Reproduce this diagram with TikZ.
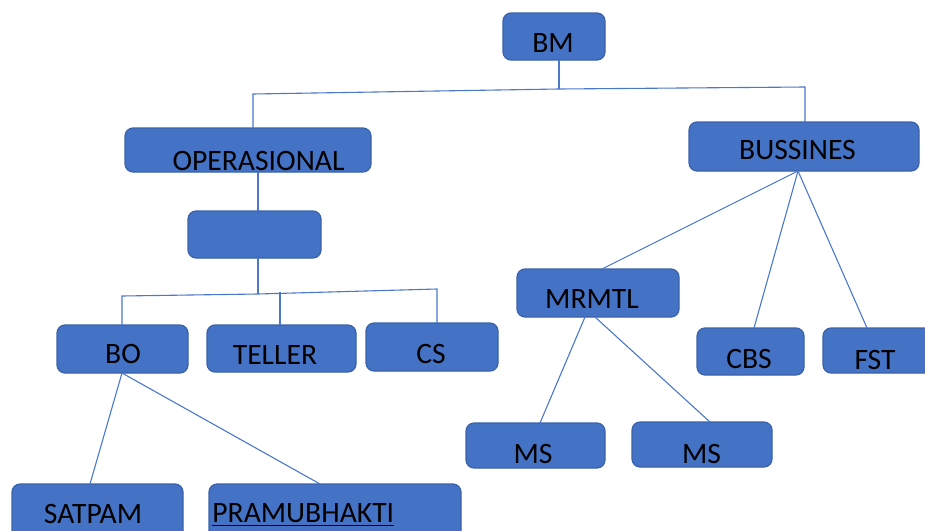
\documentclass[tikz,border=0pt]{standalone}
\usepackage{fontspec}
\setmainfont{Carlito}
\usetikzlibrary{calc}
\definecolor{fillblue}{HTML}{4472C4}
\definecolor{edgeblue}{HTML}{3A62AA}
\definecolor{lineblue}{HTML}{4A78CC}
\begin{document}
\begin{tikzpicture}[x=0.5pt,y=-0.5pt,
  box/.style={draw=edgeblue, fill=fillblue, rounded corners=4pt, line width=0.6pt, inner sep=0pt, outer sep=0pt},
  txt/.style={inner sep=0pt, anchor=base, font=\fontsize{14.8}{18}\selectfont, text=black},
  conn/.style={draw=lineblue, line width=0.55pt}]
\useasboundingbox (0,0) rectangle (925,530);
\clip (0,0) rectangle (925,530);
% boxes
\node[box, minimum width=51pt, minimum height=23.5pt] (bm) at (554,36.5) {};
\node[box, minimum width=123pt, minimum height=22pt] (ops) at (248,150) {};
\node[box, minimum width=115pt, minimum height=24.5pt] (bus) at (804,146.5) {};
\node[box, minimum width=66.5pt, minimum height=23.5pt] (blank) at (254.5,234.5) {};
\node[box, minimum width=65.5pt, minimum height=24pt] (bo) at (122.5,349) {};
\node[box, minimum width=74.5pt, minimum height=23.5pt] (teller) at (281.5,348.5) {};
\node[box, minimum width=66pt, minimum height=24pt] (cs) at (432,347) {};
\node[box, minimum width=81pt, minimum height=24pt] (mrmtl) at (598,293) {};
\node[box, minimum width=53.5pt, minimum height=23.5pt] (cbs) at (750.5,351.5) {};
\node[box, minimum width=62pt, minimum height=22.5pt] (fst) at (885,350.5) {};
\node[box, minimum width=69.5pt, minimum height=22.5pt] (msa) at (535.5,445.5) {};
\node[box, minimum width=70pt, minimum height=22.5pt] (msb) at (702,444.5) {};
\node[box, minimum width=85.5pt, minimum height=30.5pt] (satpam) at (97.5,514.5) {};
\node[box, minimum width=126pt, minimum height=30.5pt] (pramu) at (335,514.5) {};
% texts
\node[txt] (bmt) at (553,52) {BM};
\node[txt] (opst) at (258.5,170) {OPERASIONAL};
\node[txt] (bust) at (797.5,159) {BUSSINES};
\node[txt] (bot) at (123,363) {BO};
\node[txt] (tellert) at (275,364) {TELLER};
\node[txt] (cst) at (431,363) {CS};
\node[txt] (mrmtlt) at (592,308) {MRMTL};
\node[txt] (cbst) at (749,368) {CBS};
\node[txt] (fstt) at (875,369) {FST};
\node[txt] (msat) at (533,463) {MS};
\node[txt] (msbt) at (701.5,463) {MS};
\node[txt] (satpamt) at (93,523) {SATPAM};
\node[txt, anchor=base west] (pramut) at (212,522) {\underline{PRAMUBHAKTI}};
% junction coordinates
\coordinate (j0) at (559,89);
\coordinate (jl) at (253,94);
\coordinate (jr) at (805,87);
\coordinate (k0) at (258,294);
\coordinate (kl) at (122,296);
\coordinate (km) at (280,292);
\coordinate (kr) at (437,289);
% connectors
\draw[conn] ($(bm.south)+(5,0)$) -- (j0);
\draw[conn] ($(ops.north)+(5,0)$) -- (jl) -- (j0) -- (jr) -- ($(bus.north)+(1,0)$);
\draw[conn] ($(ops.south)+(10,0)$) -- ($(blank.north)+(3.5,0)$);
\draw[conn] ($(blank.south)+(3.5,0)$) -- (k0);
\draw[conn] ($(bo.north)+(-0.5,0)$) -- (kl) -- (k0) -- (kr) -- ($(cs.north)+(5,0)$);
\draw[conn] (km) -- ($(teller.north)+(-1.5,0)$);
\draw[conn] ($(bo.south)+(-0.5,0)$) -- ($(satpam.north)+(-7.5,0)$);
\draw[conn] ($(bo.south)+(-0.5,0)$) -- ($(pramu.north)+(-15,0)$);
\draw[conn] ($(bus.south)+(-6,0)$) -- ($(mrmtl.north)+(4,0)$);
\draw[conn] ($(bus.south)+(-6,0)$) -- ($(cbs.north)+(3.5,0)$);
\draw[conn] ($(bus.south)+(-6,0)$) -- ($(fst.north)+(-18,0)$);
\draw[conn] ($(mrmtl.south)+(-13,0)$) -- ($(msa.north)+(4.5,0)$);
\draw[conn] ($(mrmtl.south)+(-3,0)$) -- ($(msb.north)+(8,0)$);
\end{tikzpicture}
\end{document}
